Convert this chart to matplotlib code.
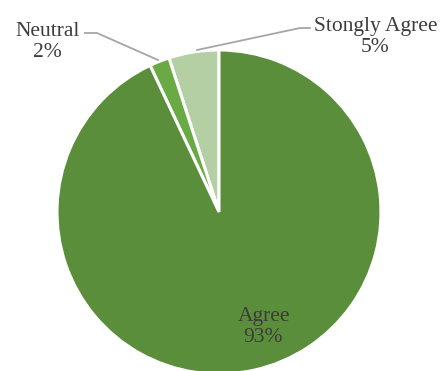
import matplotlib
matplotlib.use("Agg")
import matplotlib.pyplot as plt

labels = ["Stongly Agree", "Neutral", "Agree"]
values = [5, 2, 93]
colors = ["#B3CFA3", "#6AAA45", "#5A8E3A"]

W, H = 444, 371
cx, cy, R = 219, 212, 162

fig = plt.figure(figsize=(W / 100, H / 100), dpi=100)
ax = fig.add_axes([0, 0, 1, 1])
ax.pie(values, colors=colors, startangle=90, counterclock=True,
       wedgeprops=dict(edgecolor="white", linewidth=2.2))
ax.set_xlim(-cx / R, (W - cx) / R)
ax.set_ylim(-(H - cy) / R, cy / R)
ax.set_aspect("auto")
ax.axis("off")

def P(x, y):
    return ((x - cx) / R, (cy - y) / R)

font = dict(family="Liberation Serif", fontsize=15.5, color="#3C3C3C",
            ha="center", va="baseline")
# (center x, baseline of name line) in pixel space
pos = {"Neutral": (48, 36), "Stongly Agree": (376, 31), "Agree": (264, 321)}
for lab, val in zip(labels, values):
    x, y = pos[lab]
    ax.text(*P(x, y), lab, **font)
    ax.text(*P(x - 1, y + 21), f"{val}%", **font)

lc = "#A6A6A6"
xs, ys = zip(*[P(85, 33), P(97, 33), P(158, 60)])
ax.plot(xs, ys, color=lc, lw=1.3)
xs, ys = zip(*[P(197, 50), P(300, 28), P(310, 28)])
ax.plot(xs, ys, color=lc, lw=1.3)

fig.savefig("out.png", dpi=100)
